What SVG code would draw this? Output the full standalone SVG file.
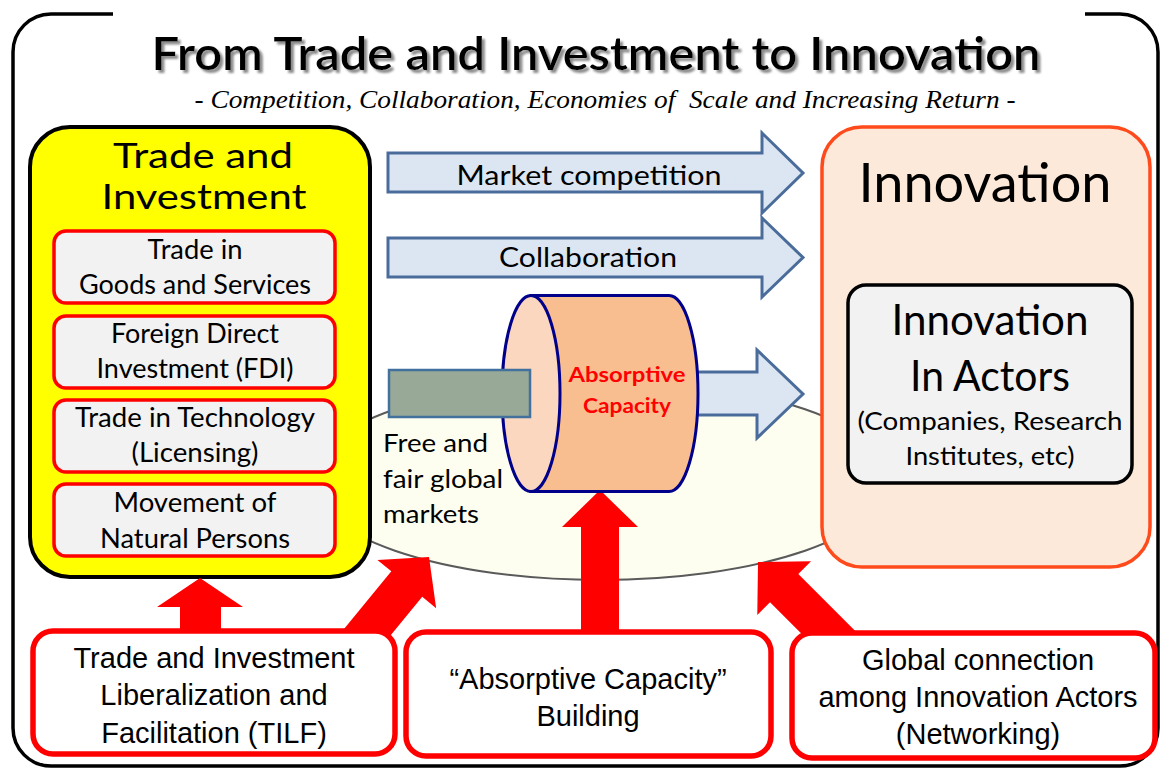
<svg xmlns="http://www.w3.org/2000/svg" width="1160" height="769" viewBox="0 0 1160 769">
  <defs>
    <filter id="shadow" x="-5%" y="-20%" width="110%" height="150%">
      <feDropShadow dx="3" dy="3" stdDeviation="1.2" flood-color="#8c8c8c" flood-opacity="1"/>
    </filter>
  </defs>
  <style>
    .cal { font-family: Lato, "Open Sans", sans-serif; fill: #000; }
    .ar { font-family: "Liberation Sans", Arial, sans-serif; font-size: 29px; fill: #000; text-anchor: middle; }
    .mid { text-anchor: middle; }
    .sub { fill: #F2F2F2; stroke: #FF0000; stroke-width: 3.5; }
    .bot { fill: #FFFFFF; stroke: #FF0000; stroke-width: 5.5; }
    .blue { fill: #DCE6F2; stroke: #4A6C9B; stroke-width: 3; }
    .red { fill: #FF0000; stroke: none; }
  </style>

  <!-- outer frame -->
  <path d="M113,14 H51 A38,38 0 0 0 13,52 V728 A38,38 0 0 0 51,766 H1120 A38,38 0 0 0 1158,728 V52 A38,38 0 0 0 1120,14 H1085" fill="none" stroke="#000" stroke-width="3.5"/>

  <!-- title -->
  <g id="title">
    <text x="596" y="70" class="cal mid" font-size="46" font-weight="600" textLength="889" lengthAdjust="spacingAndGlyphs" filter="url(#shadow)">From Trade and Investment to Innovation</text>
    <text x="605" y="108" font-family="'Liberation Serif', 'Times New Roman', serif" font-style="italic" font-size="26" text-anchor="middle" textLength="821" lengthAdjust="spacingAndGlyphs" xml:space="preserve">- Competition, Collaboration, Economies of  Scale and Increasing Return -</text>
  </g>

  <!-- market ellipse -->
  <g id="market">
    <ellipse cx="600" cy="480" rx="290" ry="100" fill="#FEFEF0" stroke="#5a5a5a" stroke-width="2"/>
  </g>

  <!-- Trade and Investment -->
  <g id="trade-investment">
    <rect x="30" y="127" width="340" height="450" rx="40" fill="#FFFF00" stroke="#000" stroke-width="4"/>
    <text x="203" y="168" class="cal mid" font-size="35" textLength="180" lengthAdjust="spacingAndGlyphs">Trade and</text>
    <text x="204" y="209" class="cal mid" font-size="35" textLength="205" lengthAdjust="spacingAndGlyphs">Investment</text>
  </g>
  <g id="trade-goods">
    <rect x="54" y="231" width="281" height="72" rx="12" class="sub"/>
    <text x="195" y="259" class="cal mid" font-size="27" textLength="95" lengthAdjust="spacingAndGlyphs">Trade in</text>
    <text x="195" y="294" class="cal mid" font-size="27" textLength="232" lengthAdjust="spacingAndGlyphs">Goods and Services</text>
  </g>
  <g id="fdi">
    <rect x="54" y="316" width="281" height="72" rx="12" class="sub"/>
    <text x="195" y="343" class="cal mid" font-size="27" textLength="168" lengthAdjust="spacingAndGlyphs">Foreign Direct</text>
    <text x="195" y="378" class="cal mid" font-size="27" textLength="197" lengthAdjust="spacingAndGlyphs">Investment (FDI)</text>
  </g>
  <g id="trade-tech">
    <rect x="54" y="400" width="281" height="72" rx="12" class="sub"/>
    <text x="195" y="427" class="cal mid" font-size="27" textLength="240" lengthAdjust="spacingAndGlyphs">Trade in Technology</text>
    <text x="195" y="462" class="cal mid" font-size="27" textLength="127" lengthAdjust="spacingAndGlyphs">(Licensing)</text>
  </g>
  <g id="natural-persons">
    <rect x="54" y="484" width="281" height="72" rx="12" class="sub"/>
    <text x="195" y="512" class="cal mid" font-size="27" textLength="163" lengthAdjust="spacingAndGlyphs">Movement of</text>
    <text x="195" y="548" class="cal mid" font-size="27" textLength="190" lengthAdjust="spacingAndGlyphs">Natural Persons</text>
  </g>

  <!-- Innovation -->
  <g id="innovation">
    <rect x="822" y="127" width="328" height="440" rx="40" fill="#FDE9D9" stroke="#FF4A1C" stroke-width="3.5"/>
    <text x="985" y="202" class="cal mid" font-size="54" textLength="253" lengthAdjust="spacingAndGlyphs">Innovation</text>
  </g>
  <g id="innovation-actors">
    <rect x="848" y="285" width="284" height="198" rx="18" fill="#F2F2F2" stroke="#000" stroke-width="3.5"/>
    <text x="990" y="335" class="cal mid" font-size="42" textLength="197" lengthAdjust="spacingAndGlyphs">Innovation</text>
    <text x="990" y="391" class="cal mid" font-size="42" textLength="160" lengthAdjust="spacingAndGlyphs">In Actors</text>
    <text x="990" y="430" class="cal mid" font-size="25" textLength="265" lengthAdjust="spacingAndGlyphs">(Companies, Research</text>
    <text x="990" y="465" class="cal mid" font-size="25" textLength="169" lengthAdjust="spacingAndGlyphs">Institutes, etc)</text>
  </g>

  <!-- connectors -->
  <g id="connectors">
    <g id="market-competition">
      <path d="M388,153 H762 V133 L803,173 L762,213 V192 H388 Z" class="blue"/>
      <text x="589" y="185" class="cal mid" font-size="27" textLength="265" lengthAdjust="spacingAndGlyphs">Market competition</text>
    </g>
    <g id="collaboration">
      <path d="M388,238 H762 V218 L803,257.5 L762,297 V277 H388 Z" class="blue"/>
      <text x="588" y="267" class="cal mid" font-size="27" textLength="178" lengthAdjust="spacingAndGlyphs">Collaboration</text>
    </g>
    <path d="M660,372 H757 V350 L803,394 L757,438 V415 H660 Z" class="blue"/>

    <!-- red arrows -->
    <path d="M200,578 L243,607 L221,607 L221,640 L180,640 L180,607 L157,607 Z" class="red"/>
    <path d="M0,0 L38,35 L20,35 L20,118 L-20,118 L-20,35 L-38,35 Z" class="red" transform="translate(429,557) rotate(39.4)"/>
    <path d="M600,490 L638,527 L619,527 L619,640 L581,640 L581,527 L562,527 Z" class="red"/>
    <path d="M0,0 L38,37 L20,37 L20,125 L-20,125 L-20,37 L-38,37 Z" class="red" transform="translate(758,562) rotate(-45)"/>
  </g>

  <!-- absorptive capacity cylinder -->
  <g id="absorptive-capacity">
    <path d="M531,295.5 H669 A29,98 0 0 1 669,491.5 H531 Z" fill="#F9BE8F" stroke="#00008B" stroke-width="3"/>
    <ellipse cx="531" cy="393.5" rx="29" ry="98" fill="#FAD7BE" stroke="#00008B" stroke-width="3"/>
    <text x="627" y="382" font-family="Lato, 'Open Sans', sans-serif" font-weight="bold" font-size="21" fill="#FF0000" text-anchor="middle" textLength="117" lengthAdjust="spacingAndGlyphs">Absorptive</text>
    <text x="627" y="413" font-family="Lato, 'Open Sans', sans-serif" font-weight="bold" font-size="21" fill="#FF0000" text-anchor="middle" textLength="88" lengthAdjust="spacingAndGlyphs">Capacity</text>
  </g>
  <g id="trade-bar">
    <rect x="389" y="370" width="141" height="47" fill="#98A997" stroke="#41719C" stroke-width="2.5"/>
  </g>
  <g id="market-label">
    <text x="383" y="452" class="cal" font-size="25" textLength="105" lengthAdjust="spacingAndGlyphs">Free and</text>
    <text x="383" y="488" class="cal" font-size="25" textLength="120" lengthAdjust="spacingAndGlyphs">fair global</text>
    <text x="383" y="523" class="cal" font-size="25" textLength="96" lengthAdjust="spacingAndGlyphs">markets</text>
  </g>

  <!-- bottom boxes -->
  <g id="tilf">
    <rect x="33" y="631" width="362" height="123" rx="20" class="bot"/>
    <text x="214" y="668" class="ar">Trade and Investment</text>
    <text x="214" y="705" class="ar">Liberalization and</text>
    <text x="214" y="743" class="ar">Facilitation (TILF)</text>
  </g>
  <g id="capacity-building">
    <rect x="406" y="632" width="365" height="124" rx="20" class="bot"/>
    <text x="588" y="689" class="ar">“Absorptive Capacity”</text>
    <text x="588" y="726" class="ar">Building</text>
  </g>
  <g id="networking">
    <rect x="792" y="633" width="363" height="125" rx="20" class="bot"/>
    <text x="978" y="670" class="ar">Global connection</text>
    <text x="978" y="707" class="ar">among Innovation Actors</text>
    <text x="978" y="744" class="ar">(Networking)</text>
  </g>
</svg>
